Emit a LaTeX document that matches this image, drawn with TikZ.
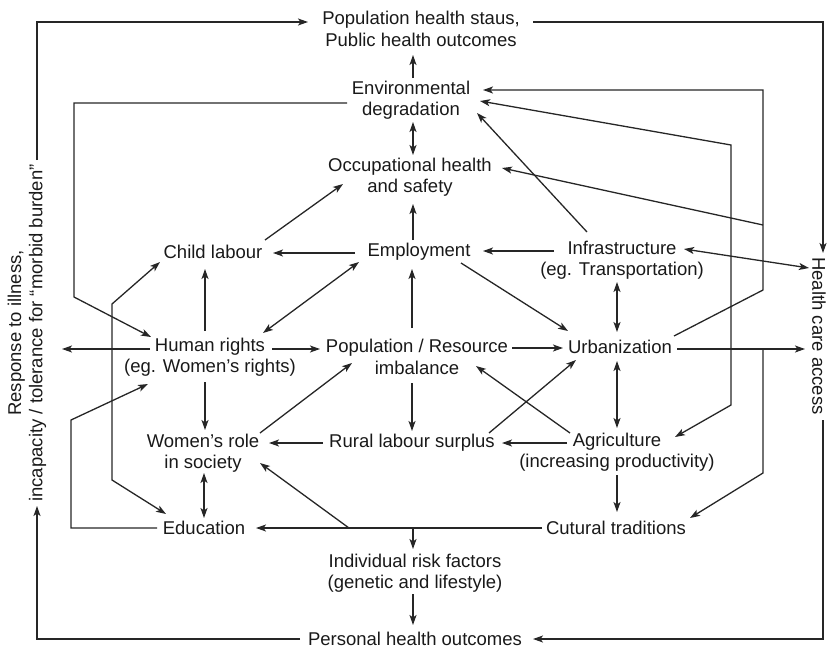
\documentclass[tikz,border=0pt]{standalone}
\usepackage{fontspec}
\setmainfont{Liberation Sans}
\usetikzlibrary{arrows.meta}
\begin{document}
\begin{tikzpicture}[x=1pt,y=-1pt,
  lbl/.style={font=\fontsize{18.5}{21.3}\selectfont, align=center, inner sep=0pt, text=black!90},
  con/.style={line width=1.3pt, draw=black!85},
  arr/.style={con, -{Stealth[length=10pt,width=7pt,inset=2.5pt]}},
  darr/.style={con, {Stealth[length=10pt,width=7pt,inset=2.5pt]}-{Stealth[length=10pt,width=7pt,inset=2.5pt]}}]
\useasboundingbox (0,0) rectangle (827,648);

\node[lbl] (pop) at (421,29) {Population health staus,\\Public health outcomes};
\node[lbl] (env) at (411,100) {Environmental\\degradation};
\node[lbl] (occ) at (410,177) {Occupational health\\and safety};
\node[lbl] (cl) at (213,252) {Child labour};
\node[lbl] (emp) at (419,252) {Employment};
\node[lbl] (inf) at (622,260) {Infrastructure\\(eg. Transportation)};
\node[lbl] (hr) at (210,357) {Human rights\\(eg. Women’s rights)};
\node[lbl] (pr) at (417,357) {Population / Resource\\imbalance};
\node[lbl] (urb) at (620,347) {Urbanization};
\node[lbl] (wr) at (203,453) {Women’s role\\in society};
\node[lbl] (rls) at (412,443) {Rural labour surplus};
\node[lbl] (agr) at (617,452) {Agriculture\\(increasing productivity)};
\node[lbl] (edu) at (204,528) {Education};
\node[lbl] (ct) at (616,528) {Cutural traditions};
\node[lbl] (ind) at (415,573) {Individual risk factors\\(genetic and lifestyle)};
\node[lbl] (phe) at (415,639) {Personal health outcomes};
\node[lbl, rotate=90] (resp) at (27,333) {Response to illness,\\incapacity / tolerance for “morbid burden”};
\node[lbl, rotate=-90] (hca) at (819,336) {Health care access};

% central column
\draw[arr] ([shift={(2,-22)}]env.center) -- ([shift={(-8,26)}]pop.center);
\draw[darr] ([shift={(2,22)}]env.center) -- ([shift={(3,-22)}]occ.center);
\draw[arr] ([shift={(-6,-12)}]emp.center) -- ([shift={(3,27)}]occ.center);
\draw[arr] ([shift={(-5,-29)}]pr.center) -- ([shift={(-7,17)}]emp.center);
\draw[arr] ([shift={(-5,26)}]pr.center) -- ([shift={(0,-12)}]rls.center);
\draw[arr] ([shift={(-2,21)}]ind.center) -- ([shift={(-2,-14)}]phe.center);

% employment row
\draw[arr] ([shift={(52,-12)}]cl.center) -- ([shift={(-67,7)}]occ.center);
\draw[arr] ([shift={(-64,1)}]emp.center) -- ([shift={(60,1)}]cl.center);
\draw[arr] ([shift={(-68,-9)}]inf.center) -- ([shift={(64,-1)}]emp.center);
\draw[arr] ([shift={(-35,-28)}]inf.center) -- ([shift={(66,13)}]env.center);
\draw[darr] ([shift={(62,-11)}]inf.center) -- ([shift={(-10,-68)}]hca.center);

% human rights
\draw[arr] ([shift={(-5,-26)}]hr.center) -- ([shift={(-8,17)}]cl.center);
\draw[darr] ([shift={(53,-24)}]hr.center) -- ([shift={(-60,10)}]emp.center);
\draw[arr] ([shift={(62,-8)}]hr.center) -- ([shift={(-97,-8)}]pr.center);
\draw[arr] ([shift={(-60,-8)}]hr.center) -- ([shift={(35,16)}]resp.center);
\draw[arr] ([shift={(-5,25)}]hr.center) -- ([shift={(2,-23)}]wr.center);
\draw[arr] ([shift={(-64,3)}]env.center) -| (74,297) -- ([shift={(-59,-20)}]hr.center);

% urbanization
\draw[arr] ([shift={(42,11)}]emp.center) -- ([shift={(-52,-16)}]urb.center);
\draw[arr] ([shift={(95,-9)}]pr.center) -- ([shift={(-57,1)}]urb.center);
\draw[darr] ([shift={(-5,22)}]inf.center) -- ([shift={(-3,-15)}]urb.center);
\draw[darr] ([shift={(-3,14)}]urb.center) -- ([shift={(0,-24)}]agr.center);
\draw[arr] ([shift={(57,2)}]urb.center) -- ([shift={(-14,13)}]hca.center);
\draw[arr] ([shift={(54,-11)}]urb.center) -- (763,290) -- (763,90) -- ([shift={(72,-10)}]env.center);
\coordinate (busA) at (763,225);
\draw[arr] (busA) -- ([shift={(92,-9)}]occ.center);
\draw[darr] ([shift={(69,1)}]env.center) -- (731,145) -- (731,405) -- ([shift={(58,-15)}]agr.center);
\coordinate (busB) at (763,349);
\draw[arr] (busB) -- (763,473) -- ([shift={(74,-10)}]ct.center);

% agriculture / rural
\draw[arr] ([shift={(-50,-9)}]agr.center) -- ([shift={(90,0)}]rls.center);
\draw[arr] ([shift={(-47,-19)}]agr.center) -- ([shift={(59,9)}]pr.center);
\draw[arr] ([shift={(77,-10)}]rls.center) -- ([shift={(-44,13)}]urb.center);
\draw[arr] ([shift={(-89,0)}]rls.center) -- ([shift={(66,-10)}]wr.center);
\draw[arr] ([shift={(57,-20)}]wr.center) -- ([shift={(-65,6)}]pr.center);
\draw[darr] ([shift={(1,20)}]wr.center) -- ([shift={(0,-10)}]edu.center);
\draw[arr] ([shift={(0,23)}]agr.center) -- ([shift={(1,-16)}]ct.center);

% cultural traditions row
\draw[arr] ([shift={(-74,0)}]ct.center) -- ([shift={(52,0)}]edu.center);
\coordinate (busC) at (349,528);
\draw[arr] (busC) -- ([shift={(57,10)}]wr.center);
\coordinate (busD) at (413,528);
\draw[arr] (busD) -- ([shift={(-2,-24)}]ind.center);
\draw[arr] ([shift={(-47,0)}]edu.center) -- (71,528) -- (71,420) -- ([shift={(-62,27)}]hr.center);
\draw[darr] ([shift={(-53,10)}]cl.center) -- (112,304) -- (112,480) -- ([shift={(-38,-14)}]edu.center);

% outer loop
\draw[arr] ([shift={(10,-173)}]resp.center) -- (37,22) -- ([shift={(-113,-7)}]pop.center);
\draw[arr] ([shift={(-115,0)}]phe.center) -- (37,639) -- ([shift={(10,173)}]resp.center);
\draw[arr] ([shift={(112,-7)}]pop.center) -- (823,22) -- ([shift={(4,-83)}]hca.center);
\draw[arr] ([shift={(4,84)}]hca.center) -- (823,639) -- ([shift={(118,0)}]phe.center);
\end{tikzpicture}
\end{document}
